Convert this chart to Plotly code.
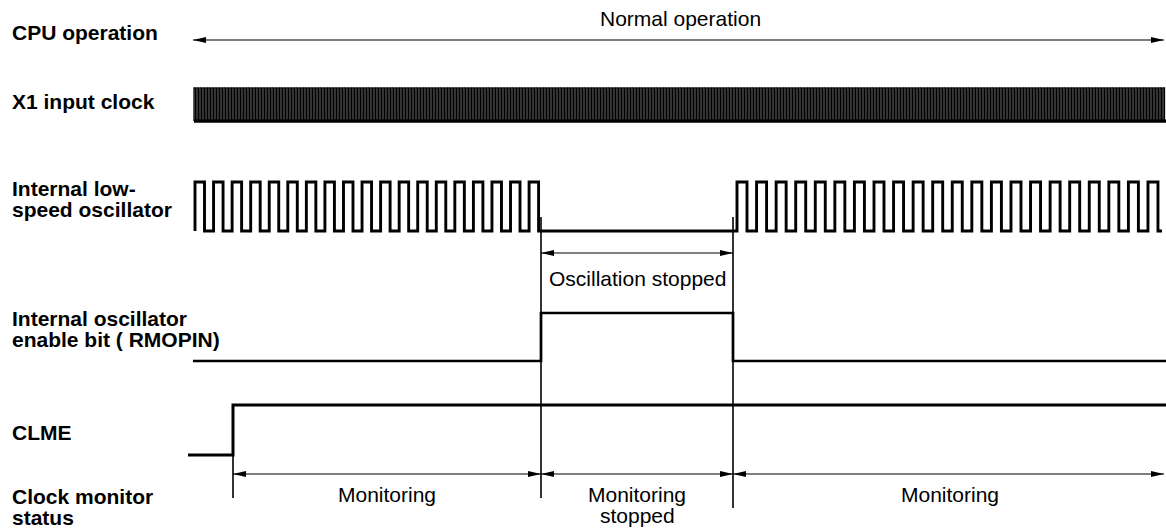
import plotly.graph_objects as go

W, H = 1166, 528

# ---------------- data (time axis in diagram units) ----------------
t_left = 193          # start of signal area
t_right = 1166        # end of signal area
x1_start = 194        # X1 input clock start
x1_period = 3.0       # X1 clock period
# internal low-speed oscillator segments: (first rising edge, pulses, period, high width)
lso_segments = [(195, 19, 18.56, 9.5), (737, 22, 19.57, 10.0)]
lso_end = 1162
rmopin_edges = [541, 733]          # rise, fall of RMOPIN
clme_start = 188
clme_rise = 233
osc_stop = [541, 733]              # oscillation stopped interval
monitor_bounds = [233, 541, 733, 1166]
monitor_labels = [["Monitoring"], ["Monitoring", "stopped"], ["Monitoring"]]
row_labels = [
    (["CPU operation"], 32),
    (["X1 input clock"], 101),
    (["Internal low-", "speed oscillator"], 188),
    (["Internal oscillator", "enable bit ( RMOPIN)"], 318),
    (["CLME"], 432),
    (["Clock monitor", "status"], 496),
]

# row levels (high, low) in layout px
Y_CPU = 40
Y_X1 = (88, 121)
Y_LSO = (182, 231)
Y_RM = (313, 361)
Y_CL = (405, 455)
Y_OSCARROW = 253
Y_MON = 474

FONT = "Liberation Sans, Arial, sans-serif"
FS = 21
LINE_GAP = 21

fig = go.Figure()

def add_line(xs, ys, width):
    fig.add_trace(go.Scatter(x=xs, y=ys, mode="lines", line=dict(color="black", width=width),
                             hoverinfo="skip", showlegend=False))

# X1 input clock (dense square wave)
n_x1 = int((t_right - x1_start) / x1_period)
xs, ys = [], []
for i in range(n_x1):
    r = x1_start + i * x1_period
    xs += [r, r, r + x1_period / 2, r + x1_period / 2]
    ys += [Y_X1[1], Y_X1[0], Y_X1[0], Y_X1[1]]
add_line(xs, ys, 1.3)
add_line([x1_start, t_right], [Y_X1[1], Y_X1[1]], 3.5)

# Internal low-speed oscillator
xs, ys = [], []
for (r0, n, per, hw) in lso_segments:
    for i in range(n):
        r = r0 + i * per
        xs += [r, r, r + hw, r + hw]
        ys += [Y_LSO[1], Y_LSO[0], Y_LSO[0], Y_LSO[1]]
xs.append(lso_end)
ys.append(Y_LSO[1])
add_line(xs, ys, 2.9)

# RMOPIN
add_line([t_left, rmopin_edges[0], rmopin_edges[0], rmopin_edges[1], rmopin_edges[1], t_right],
         [Y_RM[1], Y_RM[1], Y_RM[0], Y_RM[0], Y_RM[1], Y_RM[1]], 2.7)

# CLME
add_line([clme_start, clme_rise, clme_rise, t_right], [Y_CL[1], Y_CL[1], Y_CL[0], Y_CL[0]], 3.0)

# marker vertical lines
add_line([clme_rise, clme_rise], [Y_CL[0], 498], 1.6)
add_line([osc_stop[0], osc_stop[0]], [217, 498], 1.6)
add_line([osc_stop[1], osc_stop[1]], [217, 508], 1.6)

# arrows
AL, AH = 13, 3.0
def darrow(x0, x1, y):
    add_line([x0, x1], [y, y], 1.2)
    fig.add_shape(type="path", path=f"M{x0},{y} L{x0+AL},{y-AH} L{x0+AL},{y+AH} Z",
                  fillcolor="black", line=dict(width=0), xref="x", yref="y")
    fig.add_shape(type="path", path=f"M{x1},{y} L{x1-AL},{y-AH} L{x1-AL},{y+AH} Z",
                  fillcolor="black", line=dict(width=0), xref="x", yref="y")

darrow(t_left, t_right - 2, Y_CPU)
darrow(osc_stop[0], osc_stop[1], Y_OSCARROW)
for i in range(3):
    x0, x1 = monitor_bounds[i], monitor_bounds[i + 1]
    darrow(x0, x1 - (2 if i == 2 else 0), Y_MON)

def text(s, x, y, anchor="center", bold=False):
    fig.add_annotation(x=x, y=y, text=f"<b>{s}</b>" if bold else s, showarrow=False,
                       xanchor=anchor, yanchor="middle", xref="x", yref="y",
                       font=dict(family=FONT, size=FS, color="black"))

text("Normal operation", 680, 18)
text("Oscillation stopped", (osc_stop[0] + osc_stop[1]) / 2, 278)
for i, lines in enumerate(monitor_labels):
    cx = (monitor_bounds[i] + monitor_bounds[i + 1]) / 2
    for j, s in enumerate(lines):
        text(s, cx, 494 + j * LINE_GAP)

for lines, y in row_labels:
    for j, s in enumerate(lines):
        text(s, 10, y + j * LINE_GAP, anchor="left", bold=True)

fig.update_layout(width=W, height=H, margin=dict(l=0, r=0, t=0, b=0),
                  paper_bgcolor="white", plot_bgcolor="white")
fig.update_xaxes(range=[0, W], visible=False, fixedrange=True)
fig.update_yaxes(range=[H, 0], visible=False, fixedrange=True)
fig.write_html("out.html", config={"displayModeBar": False},
               post_script="document.body.style.margin='0';document.body.style.overflow='hidden';")
